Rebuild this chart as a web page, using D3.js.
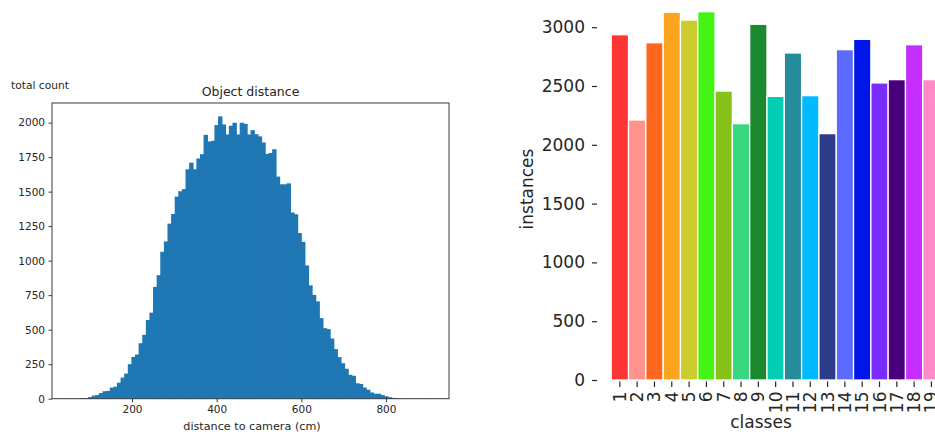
<!DOCTYPE html>
<html>
<head>
<meta charset="utf-8">
<script src="https://cdn.jsdelivr.net/npm/d3@7"></script>
<style>
  body { margin: 0; background: #fff; }
  svg { display: block; font-family: "DejaVu Sans", sans-serif; }
</style>
</head>
<body>
<div id="chart"></div>
<script>
// Left: histogram of object distance (100 bins)
var distMin = 53.6, distMax = 906.4, binCount = 100;
var distCounts = [
  1, 0, 1, 5, 3, 12, 22, 27, 41, 54,
  56, 80, 87, 116, 153, 182, 250, 303, 320, 402,
  463, 570, 623, 810, 895, 1064, 1139, 1268, 1338, 1464,
  1503, 1518, 1662, 1710, 1662, 1740, 1771, 1911, 1863, 1868,
  1982, 2045, 1987, 1914, 1977, 1999, 1914, 1999, 1991, 1914,
  1945, 1916, 1900, 1856, 1773, 1780, 1807, 1609, 1553, 1553,
  1560, 1349, 1336, 1200, 1136, 965, 821, 752, 705, 584,
  511, 504, 436, 359, 301, 257, 217, 173, 166, 112,
  107, 81, 65, 45, 36, 36, 26, 18, 11, 6,
  4, 0, 1, 0, 0, 0, 0, 0, 0, 1
];
var distTicks = [200, 400, 600, 800];
var countTicks = [0, 250, 500, 750, 1000, 1250, 1500, 1750, 2000];

// Right: instances per class
var classes = ["1","2","3","4","5","6","7","8","9","10","11","12","13","14","15","16","17","18","19"];
var instances = [2936, 2211, 2868, 3127, 3061, 3132, 2457, 2180, 3025, 2412,
                 2781, 2418, 2095, 2809, 2897, 2526, 2554, 2851, 2554];
var classColors = ["#ff3434", "#fe928c", "#fd671e", "#faa51d", "#cccc2e", "#44f514", "#86c11a",
                   "#38d880", "#1b8a2f", "#03cdb3", "#258c9a", "#00baff", "#2c3c88", "#5b6bff",
                   "#0015e8", "#7a2cff", "#4a007c", "#c42eff", "#ff8ac8"];
var instTicks = [0, 500, 1000, 1500, 2000, 2500, 3000];

var svg = d3.select("#chart")
  .append("svg")
    .attr("width", 935)
    .attr("height", 432);

// ---------- histogram ----------
var hx = d3.scaleLinear().domain([11, 949]).range([52, 449]);
var hy = d3.scaleLinear().domain([0, 2142]).range([398.7, 103]);
var binW = (distMax - distMin) / binCount;

var hist = svg.append("g");

// bars overlap a little so no white seams show between neighbours
hist.selectAll(".bin")
  .data(distCounts)
  .enter()
  .append("rect")
    .attr("class", "bin")
    .attr("x", function(d, i) { return hx(distMin + i * binW); })
    .attr("width", function(d, i) { return hx(distMin + (i + 1) * binW) - hx(distMin + i * binW) + 0.8; })
    .attr("y", function(d) { return hy(d); })
    .attr("height", function(d) { return hy(0) - hy(d); })
    .attr("fill", "#1f77b4");

// frame
hist.append("rect")
  .attr("x", 52).attr("y", 103)
  .attr("width", 397).attr("height", 295.7)
  .attr("fill", "none")
  .attr("stroke", "#3a3a3a")
  .attr("stroke-width", 1);

var hxAxis = hist.append("g")
  .attr("transform", "translate(0,398.7)")
  .call(d3.axisBottom(hx).tickValues(distTicks).tickFormat(d3.format("d")).tickSize(3.5).tickPadding(3.5));
var hyAxis = hist.append("g")
  .attr("transform", "translate(52,0)")
  .call(d3.axisLeft(hy).tickValues(countTicks).tickFormat(d3.format("d")).tickSize(3.5).tickPadding(3.5));

[hxAxis, hyAxis].forEach(function(a) {
  a.select(".domain").remove();
  a.selectAll("line").attr("stroke", "#3a3a3a");
  a.selectAll("text")
    .attr("fill", "#262626")
    .style("font-family", "DejaVu Sans")
    .style("font-size", "10.5px");
});

hist.append("text")
  .attr("x", 250.5).attr("y", 95.5)
  .attr("text-anchor", "middle")
  .style("font-size", "12.5px")
  .attr("fill", "#262626")
  .text("Object distance");

hist.append("text")
  .attr("x", 11).attr("y", 89)
  .style("font-size", "10.7px")
  .attr("fill", "#262626")
  .text("total count");

hist.append("text")
  .attr("x", 252).attr("y", 429.5)
  .attr("text-anchor", "middle")
  .style("font-size", "11.2px")
  .attr("fill", "#262626")
  .text("distance to camera (cm)");

// ---------- bar chart ----------
var bx = d3.scaleBand().domain(classes).range([611.2, 611.2 + 19 * 17.31]).padding(0);
var by = d3.scaleLinear().domain([0, 3000]).range([380, 27.2]);

var bars = svg.append("g");

bars.selectAll(".bar")
  .data(instances)
  .enter()
  .append("rect")
    .attr("class", "bar")
    .attr("x", function(d, i) { return bx(classes[i]); })
    .attr("width", bx.bandwidth())
    .attr("y", function(d) { return by(d); })
    .attr("height", function(d) { return by(0) - by(d); })
    .attr("fill", function(d, i) { return classColors[i]; })
    .attr("stroke", "#fff")
    .attr("stroke-width", 1.3);

// y ticks
var byAxis = bars.append("g")
  .attr("transform", "translate(597,0)")
  .call(d3.axisLeft(by).tickValues(instTicks).tickFormat(d3.format("d")).tickSize(5).tickPadding(7));
// x ticks
var bxAxis = bars.append("g")
  .attr("transform", "translate(0,381.5)")
  .call(d3.axisBottom(bx).tickSize(5.5).tickPadding(5));

[byAxis, bxAxis].forEach(function(a) {
  a.select(".domain").remove();
  a.selectAll("line").attr("stroke", "#262626").attr("stroke-width", 1.2);
  a.selectAll("text")
    .attr("fill", "#262626")
    .style("font-family", "DejaVu Sans")
    .style("font-size", "17px");
});

bxAxis.selectAll("text")
  .attr("text-anchor", "end")
  .attr("dy", null)
  .attr("y", 0)
  .attr("dominant-baseline", "central")
  .attr("transform", "translate(0,10) rotate(-90)");

bars.append("text")
  .attr("transform", "translate(533,189) rotate(-90)")
  .attr("text-anchor", "middle")
  .style("font-size", "17px")
  .attr("fill", "#262626")
  .text("instances");

bars.append("text")
  .attr("x", 761).attr("y", 428)
  .attr("text-anchor", "middle")
  .style("font-size", "17px")
  .attr("fill", "#262626")
  .text("classes");
</script>
</body>
</html>
